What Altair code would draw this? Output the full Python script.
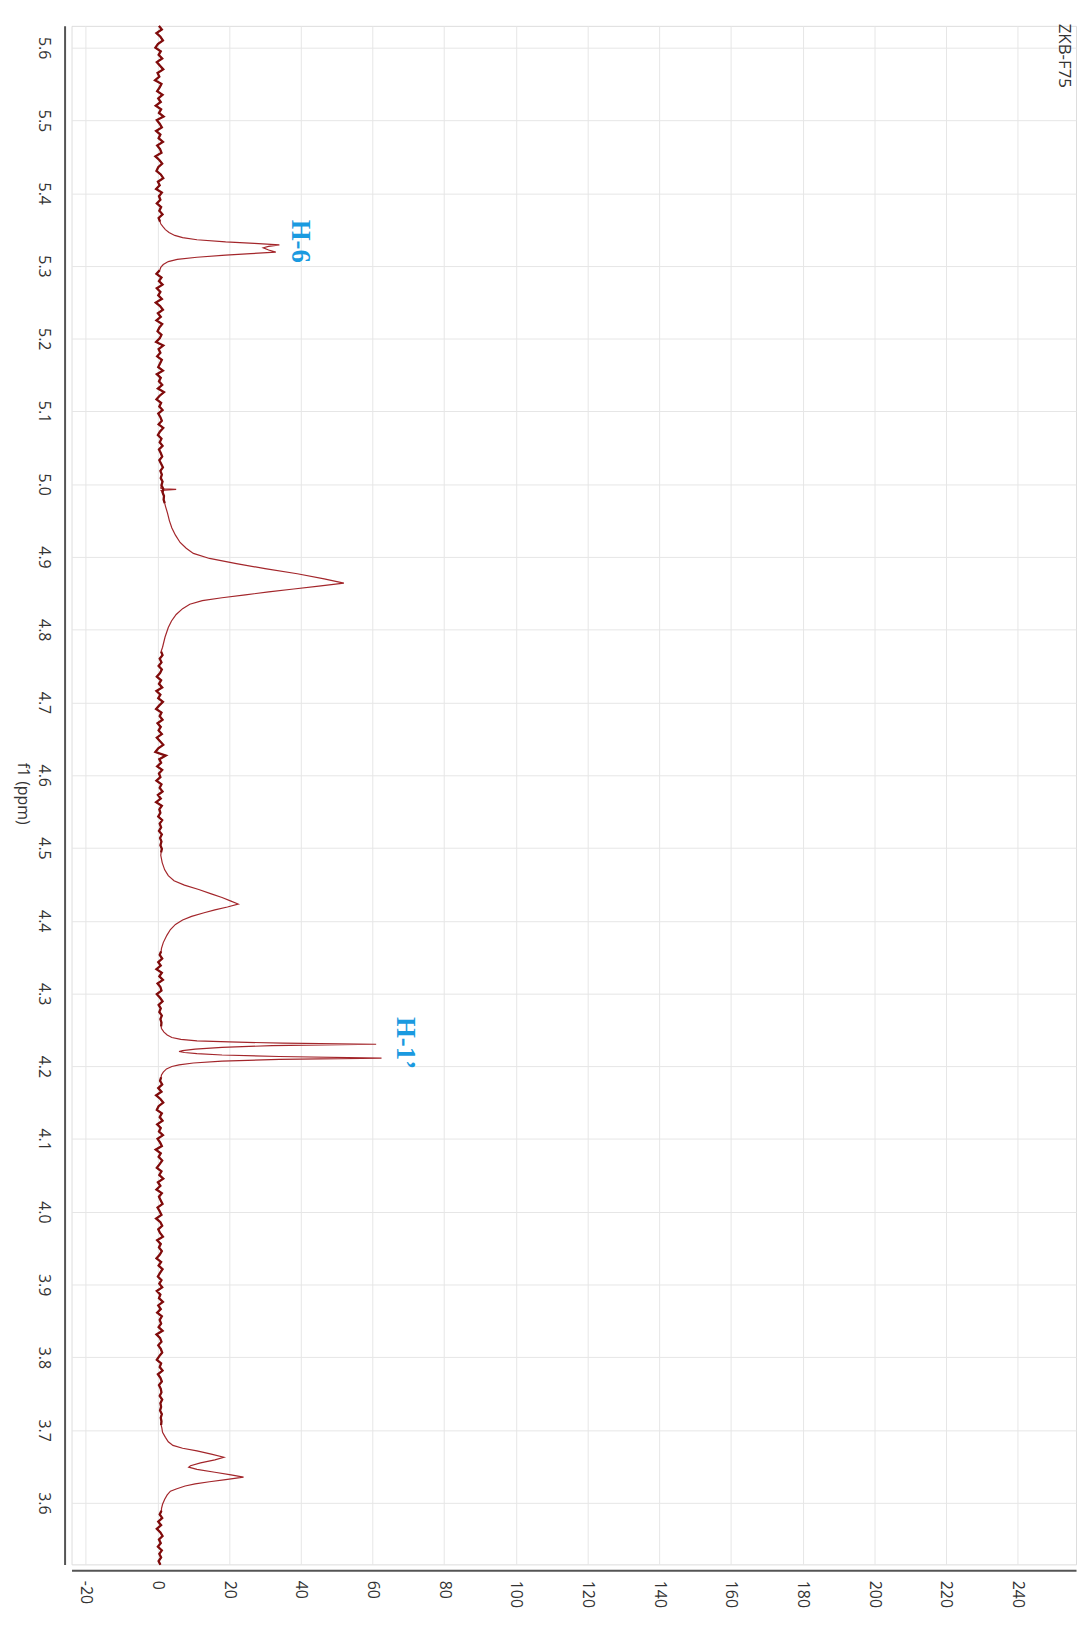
import altair as alt
import numpy as np
import pandas as pd

# ---- baseline (noise) segments: start ppm, end ppm, intensities
seg_a_range = (5.630, 5.361)
seg_a = [0.4, 1.2, -0.3, 0.8, 1.5, 0.1, -0.6, 0.9, 0.3, 1.3, -0.2, 0.7, 1.6, 0.0, 0.5, -0.7, 1.1, 0.6,
         -0.1, 1.4, 0.2, 0.9, -0.5, 1.0, 0.4, 1.7, -0.2, 0.6, 1.2, -0.4, 0.8, 0.3, 1.5, -0.1, 0.7, 1.1,
         -0.6, 0.5, 1.3, 0.2, -0.3, 0.9, 1.6, 0.1, 0.6, -0.4, 1.2, 0.4, 0.8, -0.2, 1.0, 0.5, 1.4, 0.3, 0.7]
seg_b_range = (5.294, 4.974)
seg_b = [0.6, -0.3, 1.1, 0.4, 1.4, -0.2, 0.8, 0.2, 1.2, -0.5, 0.7, 1.5, 0.1, 0.9, -0.3, 1.3, 0.5, 0.0,
         1.1, 0.6, -0.4, 1.6, 0.3, 0.8, -0.1, 1.2, 0.7, 0.2, 1.5, -0.2, 0.9, 0.4, 1.3, 0.1, 1.8, 0.6,
         -0.3, 1.0, 0.5, 1.4, 0.2, 0.8, 1.2, 0.3, 1.6, 0.7, 0.1, 1.1, 0.6, 1.4, 0.4, 0.9, 1.3, 0.5,
         1.0, 1.5, 0.8, 1.2, 0.9, 1.4, 1.1, 1.6, 1.4, 1.8, 1.7, 2.0]
spike_ppm = [4.9946, 4.9930, 4.9914]
spike_int = [0.9, 5.2, 1.0]
seg_c_range = (4.770, 4.494)
seg_c = [1.0, 1.4, 0.6, 1.1, 0.3, 1.2, 0.7, -0.2, 1.0, 0.4, 1.3, -0.3, 0.8, 0.2, 1.5, 0.5, -0.4, 1.1,
         0.6, 1.4, 0.0, 0.9, 0.3, 1.2, -0.2, 0.7, 1.6, 0.2, -0.6, 2.3, 0.5, 1.0, -0.1, 1.3, 0.4, 0.8,
         -0.3, 1.1, 0.6, 1.4, 0.1, 0.9, -0.4, 1.2, 0.5, 0.8, 0.2, 1.3, 0.6, 1.0, 0.4, 1.2, 0.7, 1.1,
         0.8, 1.2, 1.0]
seg_d_range = (4.358, 4.255)
seg_d = [1.0, 0.6, 1.3, 0.2, 0.9, -0.3, 1.2, 0.5, 1.5, 0.0, 0.8, 1.1, -0.2, 0.7, 1.4, 0.3, 0.9, 0.5,
         1.2, 0.8, 1.1, 1.0]
seg_e_range = (4.185, 3.707)
seg_e = [1.0, 0.7, 1.3, 0.2, 1.1, -0.4, 0.8, 1.6, 0.3, -0.2, 1.2, 0.6, 1.4, -0.1, 0.9, 0.4, 1.5, 0.0,
         0.7, 1.2, -0.5, 0.9, 0.3, 1.3, 0.6, -0.2, 1.1, 0.5, 1.6, 0.1, 0.8, -0.3, 1.2, 0.4, 0.9, 1.4,
         0.0, 0.6, 1.1, -0.4, 0.8, 1.3, 0.2, 0.7, 1.5, -0.1, 0.9, 0.4, 1.2, 0.6, -0.3, 1.0, 0.3, 1.4,
         0.7, 0.1, 1.1, 0.5, 1.3, -0.2, 0.8, 0.4, 1.5, 0.2, 0.9, -0.1, 1.2, 0.6, 1.0, 0.3, 1.4, -0.3,
         0.7, 1.1, 0.2, 0.9, 1.3, 0.5, -0.2, 1.0, 0.6, 1.4, 0.1, 0.8, 1.2, 0.4, 0.9, 1.1, 0.6, 1.3,
         0.8, 1.0, 0.7, 1.2, 0.9, 1.1, 1.0]
seg_f_range = (3.589, 3.515)
seg_f = [1.1, 0.6, 1.3, 0.2, 1.0, -0.2, 0.8, 1.4, 0.4, 0.9, 0.1, 1.2, 0.5, 1.0, 0.3, 0.8]

# ---- peaks (ppm, intensity)
h6_ppm = [5.358, 5.354, 5.350, 5.346, 5.342, 5.339, 5.336, 5.333, 5.331, 5.329, 5.327, 5.325,
          5.322, 5.319, 5.317, 5.315, 5.312, 5.309, 5.306, 5.302, 5.298]
h6_int = [0.9, 1.5, 2.2, 3.2, 4.8, 7.0, 11.0, 19.0, 27.0, 34.0, 31.0, 29.5,
          31.0, 33.0, 26.0, 19.0, 11.0, 5.5, 3.0, 1.6, 0.9]

p487_ppm = [4.970, 4.960, 4.950, 4.940, 4.930, 4.920, 4.912, 4.905, 4.898, 4.891, 4.884, 4.877,
            4.870, 4.864, 4.860, 4.856, 4.852, 4.848, 4.844, 4.840, 4.835, 4.829, 4.821, 4.812,
            4.803, 4.790, 4.776]
p487_int = [2.2, 2.8, 3.3, 4.0, 5.0, 6.3, 8.0, 10.0, 14.5, 22.0, 30.0, 39.0,
            46.5, 52.0, 45.0, 38.0, 31.0, 24.5, 18.0, 12.5, 9.0, 7.0, 5.2, 3.9,
            3.0, 2.1, 1.4]

p442_ppm = [4.490, 4.480, 4.470, 4.462, 4.455, 4.449, 4.443, 4.437, 4.432, 4.427, 4.423, 4.419,
            4.415, 4.411, 4.406, 4.401, 4.395, 4.388, 4.380, 4.370, 4.362]
p442_int = [0.9, 1.3, 2.0, 3.0, 4.6, 7.5, 11.5, 15.0, 18.0, 20.5, 22.5, 19.5,
            16.0, 13.0, 9.5, 7.0, 5.0, 3.6, 2.6, 1.6, 1.1]

h1_ppm = [4.252, 4.247, 4.243, 4.2395, 4.237, 4.235, 4.2335, 4.2318, 4.2303, 4.2285, 4.226,
          4.2235, 4.2215, 4.2203, 4.219, 4.2175, 4.2155, 4.2135, 4.2112, 4.2095, 4.207, 4.2045,
          4.202, 4.1998, 4.1964, 4.192, 4.188]
h1_int = [1.1, 1.8, 2.7, 4.0, 6.5, 11.0, 20.0, 35.0, 61.0, 32.0, 18.0,
          10.5, 7.0, 6.0, 7.5, 11.0, 18.0, 34.0, 62.5, 34.0, 18.0, 10.0,
          6.0, 4.0, 2.5, 1.6, 1.1]

p365_ppm = [3.703, 3.697, 3.690, 3.684, 3.679, 3.675, 3.6714, 3.667, 3.6627, 3.659, 3.655, 3.651,
            3.649, 3.646, 3.642, 3.6385, 3.6354, 3.632, 3.629, 3.626, 3.6231, 3.619, 3.616, 3.611,
            3.605, 3.598, 3.592]
p365_int = [1.2, 1.4, 2.2, 3.0, 4.3, 7.0, 11.0, 15.0, 18.5, 16.0, 12.0, 9.2,
            8.7, 11.0, 16.0, 20.5, 24.0, 19.0, 14.5, 10.5, 7.7, 5.2, 3.6, 2.7,
            2.0, 1.4, 1.1]

# ---- labels
ann_text = ["H-6", "H-1\u2019"]
ann_ppm = [5.334, 4.232]
ann_int = [39.7, 69.0]
sample_name = "ZKB-F75"

x_ticks = list(range(-20, 241, 20))
y_ticks = [round(3.6 + 0.1 * i, 1) for i in range(21)]

# ---- build tables
seg_list = [(seg_a_range, seg_a), (seg_b_range, seg_b), (seg_c_range, seg_c),
            (seg_d_range, seg_d), (seg_e_range, seg_e), (seg_f_range, seg_f)]
ppm_all, int_all = [], []
noise_rows = []
for k, ((s, e), vals) in enumerate(seg_list):
    pp = list(np.linspace(s, e, len(vals)))
    ppm_all += pp
    int_all += vals
    noise_rows += [{"ppm": p, "intensity": v, "seg": k} for p, v in zip(pp, vals)]
for p, v in [(spike_ppm, spike_int), (h6_ppm, h6_int), (p487_ppm, p487_int),
             (p442_ppm, p442_int), (h1_ppm, h1_int), (p365_ppm, p365_int)]:
    ppm_all += p
    int_all += v

df = pd.DataFrame({"ppm": ppm_all, "intensity": int_all}).sort_values("ppm", ascending=False)
df["idx"] = range(len(df))
noise_df = pd.DataFrame(noise_rows).sort_values(["seg", "ppm"], ascending=[True, False])
noise_df["idx"] = range(len(noise_df))

ann_df = pd.DataFrame({"label": ann_text, "ppm": ann_ppm, "intensity": ann_int})
name_df = pd.DataFrame({"label": [sample_name], "ppm": [5.633], "intensity": [253.0]})

font = "Open Sans"
xscale = alt.Scale(domain=[-24, 256.3], nice=False, zero=False)
yscale = alt.Scale(domain=[3.5154, 5.630], nice=False, zero=False)

x_enc = alt.X("intensity:Q", scale=xscale,
              axis=alt.Axis(values=x_ticks, labelAngle=90, labelAlign="left", labelBaseline="middle",
                            labelExpr="replace(datum.label, '\u2212', '-')",
                            title=None, offset=6, domainColor="#555555", domainWidth=2, ticks=False,
                            labelPadding=10, labelFontSize=16, labelFont=font, labelColor="#333333",
                            gridColor="#e6e6e6", labelOverlap=False))
y_enc = alt.Y("ppm:Q", scale=yscale,
              axis=alt.Axis(values=y_ticks, format=".1f", labelAngle=90, labelAlign="center",
                            labelBaseline="top", labelPadding=13, offset=7, domainColor="#555555",
                            domainWidth=2, ticks=False, labelFontSize=16, labelFont=font,
                            labelColor="#333333", gridColor="#e6e6e6", labelOverlap=False,
                            title="f1 (ppm)", titleAngle=90, titleFont=font, titleFontSize=16,
                            titleFontWeight="normal", titleColor="#333333", titleX=-42, titleY=773,
                            titleAlign="center", titleBaseline="middle"))

line = alt.Chart(df).mark_line(color="#a3262b", strokeWidth=1.2).encode(
    x=x_enc, y=y_enc, order=alt.Order("idx:Q"))

noise = alt.Chart(noise_df).mark_line(color="#800c0c", strokeWidth=2.3).encode(
    x=alt.X("intensity:Q", scale=xscale), y=alt.Y("ppm:Q", scale=yscale),
    detail="seg:N", order=alt.Order("idx:Q"))

ann = alt.Chart(ann_df).mark_text(angle=90, align="center", baseline="middle", font="Liberation Serif",
                                  fontWeight="bold", fontSize=27, color="#1a9ae0").encode(
    x=alt.X("intensity:Q", scale=xscale), y=alt.Y("ppm:Q", scale=yscale), text="label:N")

name = alt.Chart(name_df).mark_text(angle=90, align="left", baseline="middle", font=font,
                                    fontSize=17, color="#333333").encode(
    x=alt.X("intensity:Q", scale=xscale), y=alt.Y("ppm:Q", scale=yscale), text="label:N")

chart = alt.layer(line, noise, ann, name).properties(
    width=1012, height=1550,
    autosize=alt.AutoSizeParams(type="none"),
    padding={"left": 64, "top": 12, "right": 4, "bottom": 48},
).configure_view(stroke="#e0e0e0", strokeWidth=1).configure(background="white")

chart.save("out.html", embed_options={"renderer": "svg", "actions": False})
